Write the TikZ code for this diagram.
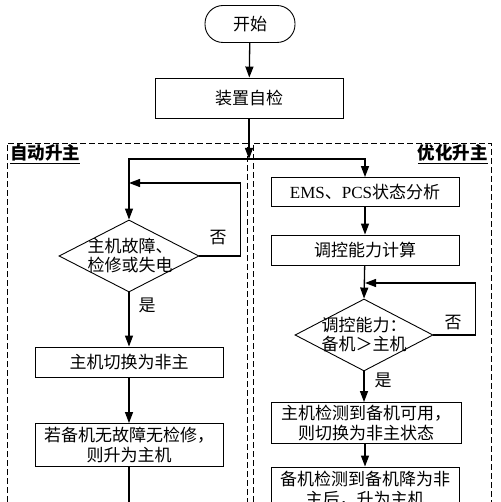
\documentclass[tikz,border=0pt]{standalone}
\usepackage{fontspec}
\setmainfont{Noto Sans CJK SC}
\newfontfamily\latinserif{Liberation Serif}
\usetikzlibrary{arrows.meta, shapes.geometric, calc}

\begin{document}
\begin{tikzpicture}[
  x=1pt, y=-1pt,
  font=\fontsize{17}{20}\selectfont,
  box/.style={draw, line width=0.9pt, minimum width=188pt, minimum height=30pt,
              align=center, inner sep=1pt},
  term/.style={draw, line width=0.9pt, rounded corners=18pt, minimum width=90pt,
               minimum height=37pt},
  dec/.style={draw, diamond, line width=0.9pt, minimum width=140pt,
              minimum height=72pt, inner sep=0pt},
  frame/.style={draw, line width=0.8pt, dash pattern=on 6pt off 3pt},
  tag/.style={font=\fontsize{17.5}{20}\selectfont\bfseries},
  a/.style={-{Triangle[length=11pt,width=8pt]}, line width=1.3pt},
  l/.style={line width=1.3pt}
]
\useasboundingbox (0,0) rectangle (500,502);

\draw[frame] (7,502) |- (247,143) -- (247,502);
\draw[frame] (253,502) |- (491,143) -- (491,502);
\node[tag, anchor=west, inner sep=1pt] (autoTag) at (9,154) {\underline{自动升主}};
\node[tag, anchor=east, inner sep=1pt] (optTag) at (489,154) {\underline{优化升主}};

\node[term] (start) at (250,24) {开始};
\node[box, minimum height=40pt] (selfcheck) at (249,98) {装置自检};
\coordinate (split) at (249,159);

\node[dec] (fault) at (129,256) {};
\node[align=center, font=\fontsize{17}{19}\selectfont] (faultText) at (130,256) {主机故障、\\检修或失电};
\coordinate (loopL) at (129,183);
\node[box] (switch) at (129,362) {主机切换为非主};
\node[box, minimum height=43pt] (promote) at (129,445) {若备机无故障无检修，\\则升为主机};
\coordinate (leftEnd) at (129,502);
\node (noL) at (218,238) {否};
\node (yesL) at (147,305) {是};

\node[box, minimum height=29pt] (ems) at (365,192) {{\latinserif EMS}、{\latinserif PCS}状态分析};
\node[box] (calc) at (365,250) {调控能力计算};
\node[dec, minimum width=138pt] (cap) at (364,335) {};
\node[align=center, font=\fontsize{17}{19}\selectfont] (capText) at (364,335) {调控能力：\\备机＞主机};
\coordinate (loopR) at (365,283);
\node[box, minimum width=190pt, minimum height=41pt] (hostdet) at (366,423) {主机检测到备机可用，\\则切换为非主状态};
\node[box, minimum height=44pt] (backup) at (365,489) {备机检测到备机降为非\\主后，升为主机};
\node (noR) at (453,323) {否};
\node (yesR) at (383,380) {是};

\draw[a] (start) -- (selfcheck);
\draw[a] (selfcheck) -- (split);
\draw[a] (split) -| (fault.north);
\draw[a] (split) -| (ems.north);
\draw[a] (fault.east) -- ++(41,0) |- (loopL);
\draw[a] (fault) -- (switch);
\draw[a] (switch) -- (promote);
\draw[l] (promote) -- (leftEnd);

\draw[a] (ems) -- (calc);
\draw[a] (calc) -- (cap.north);
\draw[a] (cap.east) -- ++(42,0) |- (loopR);
\draw[a] (cap.south) -- (hostdet.north -| cap.south);
\draw[a] (hostdet.south -| backup.north) -- (backup.north);

\end{tikzpicture}
\end{document}
